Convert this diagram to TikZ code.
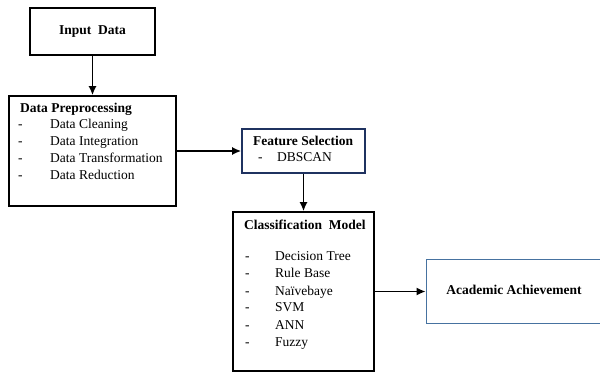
\documentclass[tikz,border=0pt]{standalone}
\usepackage{fontspec}
\setmainfont{Liberation Serif}
\newfontfamily\boxfont{Liberation Serif}
\usetikzlibrary{positioning,arrows.meta}
\definecolor{featblue}{RGB}{31,50,96}
\definecolor{acadblue}{RGB}{70,114,160}
\tikzset{
  box/.style={draw=black,line width=1.6pt,inner sep=0pt},
  txt/.style={inner sep=0pt,text height=9pt,text depth=3pt,font=\boxfont\fontsize{13.5}{17}\selectfont},
  ttl/.style={txt,font=\boxfont\fontsize{13.5}{17}\selectfont\bfseries},
  flow/.style={line width=1.6pt,-{Latex[length=9pt,width=8pt]}}
}

\begin{document}
\begin{tikzpicture}[x=1pt,y=-1pt]
\useasboundingbox (0,0) rectangle (600,374);
% Boxes
\node[box,minimum width=125pt,minimum height=47pt,ttl] (input) at (92.5,31.5) {Input\ \ Data}; % top
\node[box,minimum width=167pt,minimum height=110pt] (prep) at (92.5,151) {};
\node[box,draw=featblue,minimum width=123pt,minimum height=44pt] (feat) at (303.5,151) {};
\node[box,minimum width=141pt,minimum height=159pt] (class) at (303.5,291.5) {};
\node[box,draw=acadblue,line width=1.8pt,minimum width=175pt,minimum height=64pt,ttl] (acad) at (514,291.5) {Academic Achievement}; % right
% Labels
\node[right = 0pt of {(20,110)},ttl] (preptitle) {Data Preprocessing};
\node[right = 0pt of {(18,126)},txt] (prepd1) {-};
\node[right = 0pt of {(18,143)},txt] (prepd2) {-};
\node[right = 0pt of {(18,160)},txt] (prepd3) {-};
\node[right = 0pt of {(18,177)},txt] (prepd4) {-};
\node[right = 0pt of {(50,126)},txt] (prepa) {Data Cleaning};
\node[right = 0pt of {(50,143)},txt] (prepb) {Data Integration};
\node[right = 0pt of {(50,160)},txt] (prepc) {Data Transformation};
\node[right = 0pt of {(50,177)},txt] (prepe) {Data Reduction};
\node[right = 0pt of {(253,143)},ttl] (feattitle) {Feature Selection};
\node[right = 0pt of {(258,159)},txt] (featd) {-};
\node[right = 0pt of {(277,159)},txt] (feata) {DBSCAN};
\node[right = 0pt of {(244,227)},ttl] (classtitle) {Classification\ \ Model};
\node[right = 0pt of {(245,258)},txt] (classd1) {-};
\node[right = 0pt of {(245,275)},txt] (classd2) {-};
\node[right = 0pt of {(245,292)},txt] (classd3) {-};
\node[right = 0pt of {(245,309)},txt] (classd4) {-};
\node[right = 0pt of {(245,326)},txt] (classd5) {-};
\node[right = 0pt of {(245,343)},txt] (classd6) {-};
\node[right = 0pt of {(275,258)},txt] (classa) {Decision Tree};
\node[right = 0pt of {(275,275)},txt] (classb) {Rule Base};
\node[right = 0pt of {(275,292)},txt] (classc) {Naïvebaye};
\node[right = 0pt of {(275,309)},txt] (classe) {SVM};
\node[right = 0pt of {(275,326)},txt] (classf) {ANN};
\node[right = 0pt of {(275,343)},txt] (classg) {Fuzzy};
% Arrows
\draw[flow] (input) -- (prep);
\draw[flow] (prep) -- (feat);
\draw[flow] (feat) -- (class);
\draw[flow] (class) -- (acad);
\end{tikzpicture}
\end{document}
